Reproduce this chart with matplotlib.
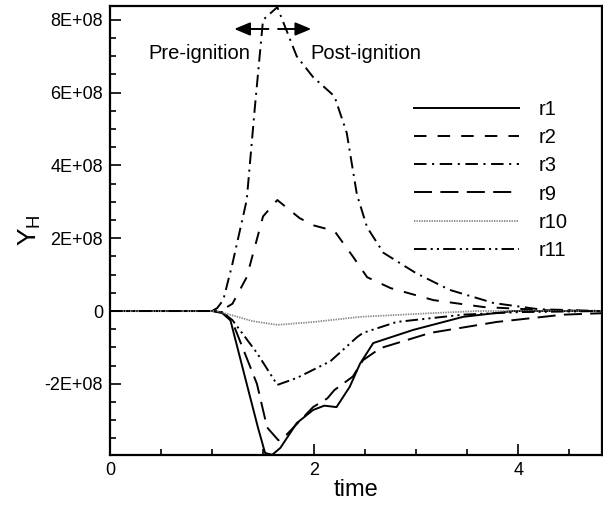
import matplotlib
matplotlib.use("Agg")
import matplotlib.pyplot as plt
from matplotlib.ticker import FuncFormatter, MultipleLocator

plt.rcParams['font.family'] = ['Liberation Sans', 'DejaVu Sans']
plt.rcParams['mathtext.fontset'] = 'custom'
plt.rcParams['mathtext.rm'] = 'Liberation Sans'
plt.rcParams['mathtext.it'] = 'Liberation Sans'
plt.rcParams['lines.scale_dashes'] = False

# ---- data (Y in units of 1E8) ----
t_r1 = [0, 1.0, 1.1, 1.18, 1.34, 1.45, 1.52, 1.59, 1.67, 1.83, 1.99, 2.1, 2.22, 2.35, 2.45, 2.58, 2.97, 3.46, 3.95, 4.4, 4.82]
y_r1 = [0, 0, -0.05, -0.25, -2.0, -3.2, -3.9, -3.95, -3.76, -3.08, -2.72, -2.6, -2.64, -2.08, -1.45, -0.88, -0.52, -0.16, 0, 0, 0]

t_r2 = [0, 1.0, 1.1, 1.2, 1.34, 1.5, 1.64, 1.86, 2.0, 2.2, 2.38, 2.52, 2.75, 3.17, 3.66, 4.3, 4.82]
y_r2 = [0, 0, 0.03, 0.2, 0.93, 2.6, 3.05, 2.55, 2.35, 2.2, 1.5, 0.93, 0.63, 0.3, 0.11, 0.02, 0]

t_r3 = [0, 1.0, 1.05, 1.11, 1.2, 1.34, 1.42, 1.5, 1.64, 1.83, 1.99, 2.2, 2.32, 2.42, 2.52, 2.68, 3.0, 3.33, 3.76, 4.2, 4.82]
y_r3 = [0, 0, 0.08, 0.3, 1.3, 3.05, 5.6, 8.0, 8.35, 7.0, 6.43, 5.9, 4.9, 3.2, 2.3, 1.6, 1.04, 0.58, 0.22, 0.05, 0]

t_r9 = [0, 1.0, 1.1, 1.2, 1.44, 1.54, 1.65, 1.73, 1.99, 2.13, 2.2, 2.38, 2.48, 2.65, 3.14, 3.79, 4.44, 4.82]
y_r9 = [0, 0, -0.05, -0.3, -2.0, -3.2, -3.55, -3.4, -2.64, -2.4, -2.17, -1.8, -1.35, -1.02, -0.6, -0.3, -0.1, -0.06]

t_r10 = [0, 1.05, 1.2, 1.4, 1.64, 2.0, 2.16, 2.45, 3.14, 3.6, 4.82]
y_r10 = [0, 0, -0.12, -0.28, -0.38, -0.3, -0.25, -0.16, -0.06, 0, 0]

t_r11 = [0, 1.0, 1.1, 1.2, 1.44, 1.64, 1.83, 2.16, 2.42, 2.48, 2.81, 3.46, 4.0, 4.82]
y_r11 = [0, 0, -0.03, -0.25, -1.15, -2.03, -1.84, -1.38, -0.72, -0.6, -0.3, -0.1, -0.03, 0]

labels = ['r1', 'r2', 'r3', 'r9', 'r10', 'r11']
series = [(t_r1, y_r1), (t_r2, y_r2), (t_r3, y_r3), (t_r9, y_r9), (t_r10, y_r10), (t_r11, y_r11)]
styles = [
    dict(color='black', linestyle='-', lw=1.4),
    dict(color='black', linestyle=(0, (9, 8)), lw=1.4),
    dict(color='black', linestyle=(0, (9, 4, 1.5, 4)), lw=1.4),
    dict(color='black', linestyle=(0, (13, 6)), lw=1.4),
    dict(color='#888888', linestyle=(0, (1, 0.8)), lw=1.3),
    dict(color='black', linestyle=(0, (9, 3, 1.5, 3, 1.5, 3)), lw=1.4),
]

fig = plt.figure(figsize=(6.03, 5.05), dpi=100)
ax = fig.add_axes([0.1824, 0.099, 0.8156, 0.889])

for (t, y), lab, st in zip(series, labels, styles):
    ax.plot(t, [v * 1e8 for v in y], label=lab, **st)

ax.set_xlim(0, 4.82)
ax.set_ylim(-3.956e8, 8.38e8)
ax.xaxis.set_major_locator(MultipleLocator(2))
ax.xaxis.set_minor_locator(MultipleLocator(0.5))
ax.yaxis.set_major_locator(MultipleLocator(2e8))
ax.yaxis.set_minor_locator(MultipleLocator(0.5e8))

def yfmt(v, pos):
    if abs(v) < 1:
        return '0'
    return '%.0E' % v
ax.yaxis.set_major_formatter(FuncFormatter(yfmt))
ax.xaxis.set_major_formatter(FuncFormatter(lambda v, p: '%d' % round(v)))

ax.tick_params(which='both', direction='in', top=False, right=False, labelsize=13, width=1.2)
ax.tick_params(which='major', length=8, pad=5)
ax.tick_params(which='minor', length=4)
for s in ax.spines.values():
    s.set_linewidth(1.6)

ax.set_xlabel('time', fontsize=17, labelpad=0)
ax.set_ylabel('$\\mathregular{Y_H}$', fontsize=19, labelpad=1)

# annotations
ax.annotate('', xy=(1.19, 7.75e8), xytext=(1.58, 7.75e8),
            arrowprops=dict(arrowstyle='-|>,head_length=0.6,head_width=0.25', color='black', lw=1.4, mutation_scale=16))
ax.annotate('', xy=(2.0, 7.75e8), xytext=(1.62, 7.75e8),
            arrowprops=dict(arrowstyle='-|>,head_length=0.6,head_width=0.25', color='black', lw=1.4, mutation_scale=16))
ax.text(1.37, 7.09e8, 'Pre-ignition', ha='right', va='center', fontsize=14.5)
ax.text(1.96, 7.09e8, 'Post-ignition', ha='left', va='center', fontsize=14.5)

ax.legend(loc='upper left', bbox_to_anchor=(0.618, 0.79), frameon=False,
          fontsize=14.5, handlelength=5.2, handletextpad=1.0, labelspacing=0.45,
          borderpad=0, borderaxespad=0)

fig.savefig('out.png', dpi=100)
